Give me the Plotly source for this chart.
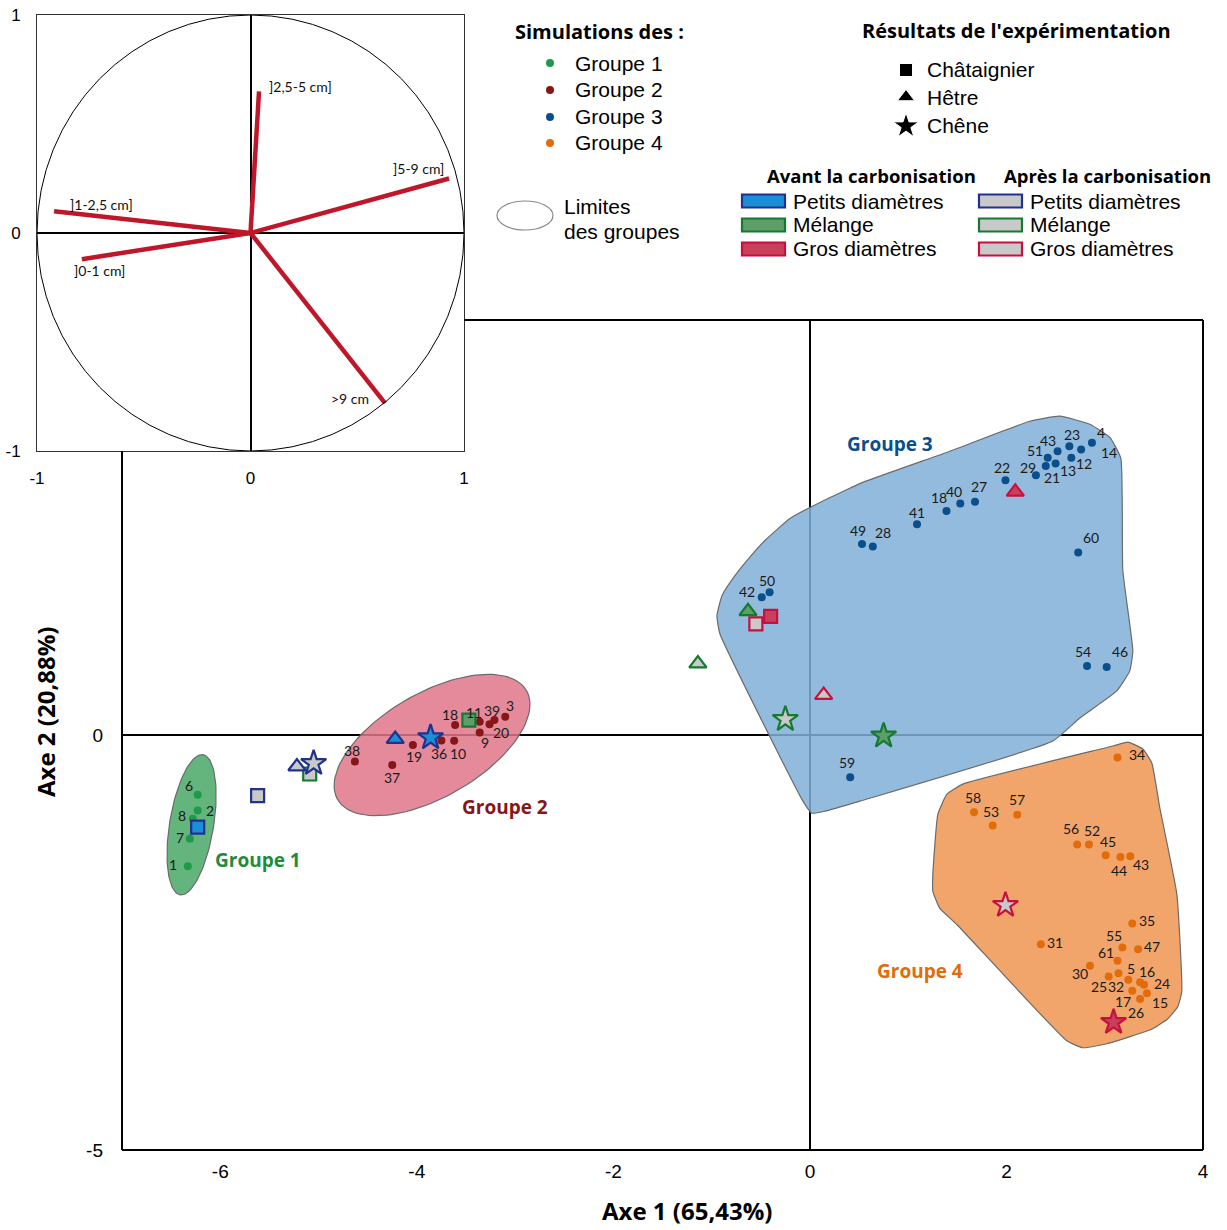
import numpy as np
import plotly.graph_objects as go

W, H = 1227, 1230

# ---------------- Simulations (individus) ----------------
g1_ids = ["6", "2", "8", "7", "1"]
g1_x = [-6.23, -6.23, -6.28, -6.31, -6.33]
g1_y = [-0.72, -0.91, -1.01, -1.25, -1.58]

g2_ids = ["18", "11", "20", "39", "3", "9", "10", "36", "19", "37", "38"]
g2_x = [-3.61, -3.36, -3.26, -3.21, -3.10, -3.36, -3.62, -3.75, -4.04, -4.25, -4.63]
g2_y = [0.12, 0.16, 0.13, 0.18, 0.22, 0.03, -0.07, -0.065, -0.12, -0.36, -0.32]

g3_ids = ["4", "23", "43", "14", "51", "12", "13", "29", "21", "22", "27", "40", "18", "41",
          "49", "28", "60", "42", "50", "54", "46", "59"]
g3_x = [2.87, 2.64, 2.52, 2.76, 2.42, 2.66, 2.50, 2.40, 2.30, 1.99, 1.68, 1.53, 1.39, 1.09,
        0.53, 0.64, 2.73, -0.49, -0.41, 2.82, 3.02, 0.41]
g3_y = [3.52, 3.48, 3.42, 3.44, 3.34, 3.34, 3.27, 3.24, 3.13, 3.07, 2.81, 2.79, 2.70, 2.54,
        2.30, 2.27, 2.20, 1.66, 1.72, 0.83, 0.82, -0.51]

g4_ids = ["34", "58", "53", "57", "56", "52", "45", "44", "43", "35", "31", "55", "47", "61",
          "30", "25", "5", "32", "16", "24", "15", "17", "26"]
g4_x = [3.13, 1.67, 1.86, 2.11, 2.72, 2.84, 3.01, 3.16, 3.26, 3.28, 2.35, 3.18, 3.34, 3.13,
        2.85, 3.04, 3.14, 3.24, 3.36, 3.40, 3.43, 3.28, 3.36]
g4_y = [-0.27, -0.93, -1.09, -0.96, -1.32, -1.32, -1.45, -1.47, -1.46, -2.27, -2.52, -2.56,
        -2.58, -2.72, -2.78, -2.91, -2.87, -2.95, -2.98, -3.01, -3.11, -3.08, -3.18]

# ---------------- Limites des groupes ----------------
g3_poly_x = [-0.946, -0.895, -0.763, -0.641, -0.458, -0.203, 0.102, 0.539, 1.424, 2.238, 2.543,
             2.848, 3.052, 3.164, 3.184, 3.286, 3.255, 3.123, 2.747, 2.472, 0.509, 0.153, 0.020,
             -0.071, -0.916]
g3_poly_y = [1.437, 1.679, 1.920, 2.101, 2.343, 2.609, 2.802, 3.043, 3.418, 3.780, 3.841, 3.744,
             3.587, 3.333, 1.981, 1.014, 0.773, 0.531, 0.205, -0.072, -0.797, -0.918, -0.942,
             -0.797, 1.220]
g4_poly_x = [1.556, 3.082, 3.235, 3.388, 3.479, 3.561, 3.734, 3.784, 3.743, 3.642, 3.489, 3.021,
             2.777, 2.614, 1.495, 1.322, 1.251, 1.251, 1.302, 1.394]
g4_poly_y = [-0.592, -0.133, -0.085, -0.169, -0.338, -0.882, -1.920, -3.092, -3.273, -3.418,
             -3.539, -3.720, -3.768, -3.684, -2.283, -2.089, -1.884, -1.679, -0.954, -0.713]
# ellipses: centre (axis units), semi-axes (px), angle (deg)
g1_ell = dict(cx=-6.292, cy=-1.081, a=71, b=22, ang=80.7)
g2_ell = dict(cx=-3.845, cy=-0.121, a=109, b=52, ang=30)

# ---------------- Résultats de l'expérimentation ----------------
exp_species = ["Châtaignier", "Hêtre", "Chêne"]
avant_petits_x, avant_petits_y = [-6.23, -4.22, -3.86], [-1.11, -0.05, -0.03]
apres_petits_x, apres_petits_y = [-5.62, -5.22, -5.05], [-0.73, -0.38, -0.34]
avant_melange_x, avant_melange_y = [-3.47, -0.63, 0.75], [0.18, 1.49, -0.01]
apres_melange_x, apres_melange_y = [-5.09, -1.14, -0.25], [-0.47, 0.86, 0.19]
avant_gros_x, avant_gros_y = [-0.40, 2.09, 3.09], [1.43, 2.93, -3.46]
apres_gros_x, apres_gros_y = [-0.55, 0.14, 1.99], [1.34, 0.48, -2.05]

# ---------------- Cercle des corrélations ----------------
vec_labels = ["]2,5-5 cm]", "]5-9 cm]", "]1-2,5 cm]", "]0-1 cm]", ">9 cm"]
vec_x = [0.04, 0.93, -0.92, -0.79, 0.63]
vec_y = [0.65, 0.25, 0.10, -0.12, -0.78]
vec_lab_x = [0.075, 0.787, -0.70, -0.707, 0.468]
vec_lab_y = [0.674, 0.298, 0.133, -0.17, -0.757]

# tick labels
main_xticks = [-6, -4, -2, 0, 2, 4]
main_xtext = ["-6", "-4", "-2", "0", "2", "4"]
main_yticks = [-5, 0]
main_ytext = ["-5", "0"]
inset_ticks = [-1, 0, 1]
inset_text = ["-1", "0", "1"]

# ---------------- label offsets (style, px: right, down) ----------------
g1_off = [(-9, -9), (12, 0), (-11, -3), (-10, -1), (-15, -2)]
g2_off = [(-5, -11), (-6, -9), (11, 8), (-2, -10), (5, -11), (5, 10), (4, 13), (-2, 13),
          (1, 12), (0, 13), (-3, -11)]
g3_off = [(9, -10), (3, -12), (-10, -11), (28, 3), (-13, -7), (13, 6), (12, 7), (-18, 1),
          (16, 2), (-3, -13), (4, -15), (-6, -12), (-8, -13), (0, -12), (-4, -14), (10, -14),
          (13, -15), (-15, -6), (-3, -12), (-4, -15), (13, -15), (-3, -15)]
g4_off = [(19, -3), (-1, -15), (-2, -14), (0, -15), (-6, -16), (3, -14), (2, -14), (-1, 13),
          (11, 8), (15, -3), (14, -2), (-8, -12), (14, -3), (-12, -8), (-10, 8), (-10, 10),
          (13, -5), (-12, 7), (7, -11), (18, -1), (13, 9), (-9, 11), (-4, 14)]

XR, YR = [-7, 4], [-5, 5]
L, R, T, B = 122, 1203, 320, 1150
PXX = (R - L) / (XR[1] - XR[0])
PXY = (B - T) / (YR[1] - YR[0])


def px(v):
    return v / W


def py(v):
    return 1 - v / H


C_G1, C_G2, C_G3, C_G4 = "#1f9a48", "#861618", "#0a4e8c", "#e36c0a"
NAVY, DGREEN, CRIMSON = "#20318e", "#137a30", "#c8103e"
F_PETITS, F_MELANGE, F_GROS, GREY = "#1a8fd8", "#5e9e69", "#c8405a", "#c9c9c9"
FONT_T = "Open Sans"
FONT_L = "Lato"
FONT_S = "Liberation Sans"
symbols = {"Châtaignier": ("square", 13), "Hêtre": ("triangle-up", 15), "Chêne": ("star", 19)}


def ellipse(e):
    t = np.linspace(0, 2 * np.pi, 120)
    th = np.radians(e["ang"])
    dx = e["a"] * np.cos(t) * np.cos(th) - e["b"] * np.sin(t) * np.sin(th)
    dy = e["a"] * np.cos(t) * np.sin(th) + e["b"] * np.sin(t) * np.cos(th)
    return e["cx"] + dx / PXX, e["cy"] + dy / PXY


fig = go.Figure()

# group areas
for xs, ys, fill in [
    (g3_poly_x + g3_poly_x[:1], g3_poly_y + g3_poly_y[:1], "rgba(128,175,216,0.85)"),
    (g4_poly_x + g4_poly_x[:1], g4_poly_y + g4_poly_y[:1], "rgba(240,149,81,0.85)"),
]:
    fig.add_trace(go.Scatter(x=xs, y=ys, mode="lines", fill="toself", fillcolor=fill,
                             line=dict(color="#6b6b6b", width=1.2, shape="spline", smoothing=0.4),
                             hoverinfo="skip"))
for e, fill in [(g1_ell, "rgba(73,167,102,0.85)"), (g2_ell, "rgba(224,117,137,0.85)")]:
    ex, ey = ellipse(e)
    fig.add_trace(go.Scatter(x=ex, y=ey, mode="lines", fill="toself", fillcolor=fill,
                             line=dict(color="#6b6b6b", width=1.2), hoverinfo="skip"))

ann = []
# simulated individuals
for xs, ys, ids, offs, col in [(g1_x, g1_y, g1_ids, g1_off, C_G1), (g2_x, g2_y, g2_ids, g2_off, C_G2),
                               (g3_x, g3_y, g3_ids, g3_off, C_G3), (g4_x, g4_y, g4_ids, g4_off, C_G4)]:
    fig.add_trace(go.Scatter(x=xs, y=ys, mode="markers", marker=dict(color=col, size=8, opacity=1)))
    for x, y, t, (dx, dy) in zip(xs, ys, ids, offs):
        ann.append(dict(x=x, y=y, xref="x", yref="y", text=t, showarrow=False,
                        xshift=dx, yshift=-dy, xanchor="center", yanchor="middle",
                        font=dict(family=FONT_L, size=14, color="#1a1a1a")))

sym = [symbols[s][0] for s in exp_species]
siz = [symbols[s][1] for s in exp_species]
for xs, ys, fill, line in [
    (apres_melange_x, apres_melange_y, GREY, DGREEN),
    (apres_petits_x, apres_petits_y, GREY, NAVY),
    (apres_gros_x, apres_gros_y, GREY, CRIMSON),
    (avant_petits_x, avant_petits_y, F_PETITS, NAVY),
    (avant_melange_x, avant_melange_y, F_MELANGE, DGREEN),
    (avant_gros_x, avant_gros_y, F_GROS, CRIMSON),
]:
    fig.add_trace(go.Scatter(x=xs, y=ys, mode="markers",
                             marker=dict(symbol=sym, size=siz, color=fill, opacity=1,
                                         line=dict(color=line, width=2.2))))

# correlation circle vectors
for vx, vy in zip(vec_x, vec_y):
    fig.add_trace(go.Scatter(x=[0, vx], y=[0, vy], mode="lines", xaxis="x2", yaxis="y2",
                             line=dict(color="#c0162a", width=4.5), hoverinfo="skip"))

# legend markers on a pixel-space overlay axis
leg_dot_y = [63, 90, 117, 143]
fig.add_trace(go.Scatter(x=[550] * 4, y=leg_dot_y, mode="markers", xaxis="x3", yaxis="y3",
                         marker=dict(size=8, opacity=1, color=[C_G1, C_G2, C_G3, C_G4]),
                         hoverinfo="skip"))
leg_sym_y = [70, 97, 126]
fig.add_trace(go.Scatter(x=[906] * 3, y=leg_sym_y, mode="markers", xaxis="x3", yaxis="y3",
                         marker=dict(symbol=sym, size=[13, 15, 19], color="black", opacity=1),
                         hoverinfo="skip"))

shapes = []
# main frame (top edge stops at the inset)
for x0, y0, x1, y1 in [(464, T, R, T), (R, T, R, B), (L, B, R, B), (L, 451, L, B)]:
    shapes.append(dict(type="line", xref="paper", yref="paper", x0=px(x0), y0=py(y0),
                       x1=px(x1), y1=py(y1), line=dict(color="black", width=2)))
# inset circle
shapes.append(dict(type="circle", xref="x2", yref="y2", x0=-1, y0=-1, x1=1, y1=1,
                   line=dict(color="black", width=1)))

# group names
for txt, x, y, col in [("Groupe 1", -5.62, -1.50, "#1e8c3a"), ("Groupe 2", -3.10, -0.87, C_G2),
                       ("Groupe 3", 0.81, 3.51, C_G3), ("Groupe 4", 1.12, -2.84, C_G4)]:
    ann.append(dict(x=x, y=y, xref="x", yref="y", text=txt, showarrow=False,
                    xanchor="center", yanchor="middle",
                    font=dict(family=FONT_T, size=19, color=col, weight="bold")))

# vector labels
for t, x, y in zip(vec_labels, vec_lab_x, vec_lab_y):
    ann.append(dict(x=x, y=y, xref="x2", yref="y2", text=t, showarrow=False,
                    xanchor="left" if t.startswith("]2") else "center", yanchor="middle",
                    font=dict(family=FONT_L, size=14, color="#111")))

# axis titles
ann.append(dict(x=px(687), y=py(1210), xref="paper", yref="paper", text="Axe 1 (65,43%)",
                showarrow=False, xanchor="center", yanchor="middle",
                font=dict(family=FONT_T, size=24, color="black", weight="bold")))
ann.append(dict(x=px(45), y=py(712), xref="paper", yref="paper", text="Axe 2 (20,88%)",
                showarrow=False, textangle=-90, xanchor="center", yanchor="middle",
                font=dict(family=FONT_T, size=24, color="black", weight="bold")))


def label(x, y, text, size=21, bold=False, anchor="left", fam=FONT_S):
    ann.append(dict(x=px(x), y=py(y), xref="paper", yref="paper", text=text, showarrow=False,
                    xanchor=anchor, yanchor="middle",
                    font=dict(family=fam, size=size, color="black",
                              weight="bold" if bold else "normal")))


label(513, 32, "Simulations des :", 20, True, fam=FONT_T)
for yy, name in zip(leg_dot_y, ["Groupe 1", "Groupe 2", "Groupe 3", "Groupe 4"]):
    label(573, yy, name)

label(860, 31, "Résultats de l'expérimentation", 20, True, fam=FONT_T)
for yy, name in zip(leg_sym_y, exp_species):
    label(925, yy, name)

shapes.append(dict(type="circle", xref="paper", yref="paper", x0=px(497), x1=px(553),
                   y0=py(230), y1=py(201), line=dict(color="#888", width=1.2)))
label(562, 206, "Limites")
label(562, 232, "des groupes")

label(765, 176, "Avant la carbonisation", 18.5, True, fam=FONT_T)
label(1002, 176, "Après la carbonisation", 18.5, True, fam=FONT_T)
rows = [("Petits diamètres", F_PETITS, NAVY), ("Mélange", F_MELANGE, DGREEN),
        ("Gros diamètres", F_GROS, CRIMSON)]
for i, (name, fill, line) in enumerate(rows):
    yy = 201 + i * 24
    for x0, f in [(742, fill), (979, GREY)]:
        shapes.append(dict(type="rect", xref="paper", yref="paper", x0=px(x0), x1=px(x0 + 43),
                           y0=py(yy + 6.5), y1=py(yy - 6.5), fillcolor=f,
                           line=dict(color=line, width=2.2)))
    label(791, yy, name)
    label(1028, yy, name)

tickf = dict(family=FONT_S, size=19, color="black")
fig.update_layout(
    width=W, height=H, showlegend=False,
    margin=dict(l=0, r=0, t=0, b=0, autoexpand=False),
    paper_bgcolor="white", plot_bgcolor="rgba(0,0,0,0)",
    xaxis=dict(domain=[L / W, R / W], range=XR, showgrid=False, showline=False,
               zeroline=True, zerolinecolor="black", zerolinewidth=2,
               tickvals=main_xticks, ticktext=main_xtext, ticks="", ticklabelstandoff=8,
               tickfont=tickf),
    yaxis=dict(domain=[1 - B / H, 1 - T / H], range=YR, showgrid=False, showline=False,
               zeroline=True, zerolinecolor="black", zerolinewidth=2,
               tickvals=main_yticks, ticktext=main_ytext, ticks="", ticklabelstandoff=18,
               tickfont=tickf),
    xaxis2=dict(domain=[37 / W, 464 / W], range=[-1, 1], anchor="y2", showgrid=False,
                showline=True, mirror=True, linecolor="#333", linewidth=1,
                zeroline=True, zerolinecolor="black", zerolinewidth=2,
                tickvals=inset_ticks, ticktext=inset_text, ticks="", ticklabelstandoff=12,
                tickfont=dict(family=FONT_S, size=17, color="black")),
    yaxis2=dict(domain=[1 - 451 / H, 1 - 15 / H], range=[-1, 1], anchor="x2", showgrid=False,
                showline=True, mirror=True, linecolor="#333", linewidth=1,
                zeroline=True, zerolinecolor="black", zerolinewidth=2,
                tickvals=inset_ticks, ticktext=inset_text, ticks="", ticklabelstandoff=12,
                tickfont=dict(family=FONT_S, size=17, color="black")),
    xaxis3=dict(domain=[0, 1], range=[0, W], anchor="y3", visible=False, fixedrange=True),
    yaxis3=dict(domain=[0, 1], range=[H, 0], anchor="x3", visible=False, fixedrange=True),
    shapes=shapes, annotations=ann,
)

fig.write_html("out.html", config={"displayModeBar": False},
               post_script="document.body.style.margin='0';document.body.style.overflow='hidden';")
